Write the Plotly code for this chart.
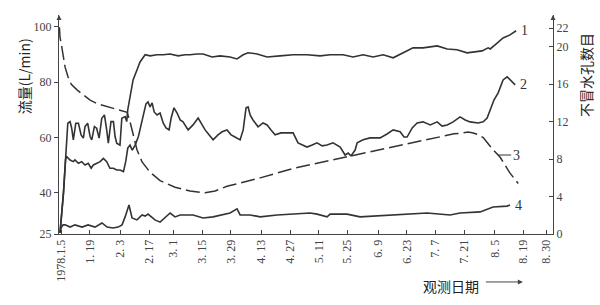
import plotly.graph_objects as go

# x values: days after 1978-01-05
tick_days = [0, 14, 29, 43, 55, 69, 83, 98, 112, 126, 140, 155, 169, 183, 197, 212, 226, 237]
tick_text = ["1978.1.5", "1. 19", "2. 3", "2. 17", "3. 1", "3. 15", "3. 29", "4. 13", "4. 27",
             "5. 11", "5. 25", "6. 9", "6. 23", "7. 7", "7. 21", "8. 5", "8. 19", "8. 30"]

left_ticks = [25, 40, 60, 80, 100]
right_ticks = [0, 4, 8, 12, 16, 20, 22]

# curve 1 (flow, L/min)
day1 = [-0.5, 1.2, 2.2, 3.0, 3.3, 4.4, 5.2, 6.0, 7.2, 8.5, 9.8, 10.9, 11.7, 13.0, 14.2, 15.0, 16.3, 17.4,
        18.6, 19.9, 21.2, 22.3, 23.1, 24.4, 25.6, 26.4, 27.2, 28.8, 29.7, 31.3, 32.1, 32.6, 33.7, 35.2,
        37.1, 38.6, 41.1, 43.5, 46.9, 49.9, 53.3, 57.2, 60.6, 63.0, 66.5, 69.4, 73.8, 77.7, 82.6, 86.0,
        89.0, 91.4, 95.8, 100.7, 107.0, 113.4, 120.2, 126.6, 131.5, 137.8, 142.7, 147.6, 152.5, 157.4,
        162.3, 167.2, 172.0, 176.9, 183.8, 188.7, 193.5, 198.4, 203.3, 205.7, 208.7, 209.7, 212.1, 216.0,
        219.4, 222.4]
flow1 = [25.4, 40, 52, 60, 65.1, 65.7, 63.3, 59.1, 65.1, 65.1, 60.9, 59.7, 63.9, 65.1, 60.3, 59.1, 63.9, 63.3,
         59.7, 66.9, 68.1, 62.7, 57.9, 65.7, 65.7, 60.3, 57.9, 57.2, 66.9, 67.5, 65.7, 70.0, 74.6, 80.8,
         84.4, 87.3, 89.9, 89.5, 89.9, 89.9, 90.2, 89.5, 89.9, 89.9, 90.2, 90.2, 89.1, 89.5, 89.1, 88.4,
         89.9, 90.6, 90.2, 89.1, 89.5, 89.9, 89.9, 89.5, 89.9, 89.9, 89.1, 89.9, 89.1, 89.9,
         88.8, 90.6, 92.4, 92.4, 93.1, 92.0, 91.7, 90.6, 90.9, 91.3, 92.4, 92.0, 93.5, 96.0,
         97.1, 98.6]

# curve 2 (flow, L/min)
day2 = [-0.5, 1.2, 2.2, 2.8, 4.4, 6.0, 6.8, 8.5, 10.1, 11.7, 13.3, 14.7, 15.8, 17.4, 19.1, 20.7, 22.3, 23.9,
        25.6, 27.2, 28.8, 30.5, 31.6, 32.6, 33.7, 34.8, 36.2, 37.8,
        40.1, 41.5, 42.5, 43.5, 44.5, 45.5, 46.9, 48.4, 49.9, 51.3, 52.8, 53.8, 55.2, 56.7, 58.2, 59.6,
        62.1, 64.5, 67.0, 68.9, 70.4, 72.3, 74.3, 76.7, 78.7, 81.1, 83.1, 85.0, 87.5, 89.0, 90.4, 91.4,
        92.4, 93.8, 96.3, 98.7, 100.7, 102.6, 104.6, 107.5, 110.5, 113.4, 115.8, 117.8, 120.2, 122.7,
        125.1, 127.6, 130.0, 132.9, 136.4, 138.8, 140.3, 141.7, 143.7, 144.7, 147.6, 151.0, 155.9, 159.3,
        162.3, 165.7, 167.6, 169.1, 171.6, 174.0, 176.9, 180.4, 183.8, 186.2, 188.7, 191.6, 195.0, 197.5,
        199.9, 203.8, 206.3, 208.2, 210.2, 211.6, 213.6, 214.6, 216.0, 218.0, 219.4, 220.4, 221.9]
flow2 = [25.4, 40, 52, 53.0, 51.8, 51.2, 51.8, 50.6, 51.2, 50.0, 50.6, 48.8, 50.0, 50.6, 51.2, 52.4, 51.2, 48.8,
         48.8, 48.2, 48.2, 47.6, 51.2, 56.1, 57.2, 55.4, 57.2, 60.3,
         67.0, 72.1, 72.8, 71.0, 72.5, 69.2, 68.1, 68.8, 65.2, 63.4, 62.7, 67.0, 70.7, 68.8, 66.3, 65.6,
         62.7, 64.5, 67.0, 64.5, 62.7, 60.9, 59.1, 60.9, 62.0, 62.7, 60.9, 60.1, 59.1, 62.7, 70.7, 71.0,
         68.1, 66.3, 63.8, 65.2, 64.5, 62.7, 60.9, 61.6, 61.6, 61.6, 58.0, 57.2, 56.5, 57.2,
         58.0, 56.9, 57.2, 58.0, 56.5, 53.6, 54.3, 53.3, 55.4, 58.0, 59.1, 59.8, 59.8, 61.2,
         62.7, 62.0, 60.1, 60.1, 63.4, 65.2, 65.6, 64.5, 65.6, 64.1, 64.5, 65.6, 67.4, 66.3,
         65.6, 65.2, 65.6, 67.0, 70.7, 73.6, 76.1, 77.9, 80.8, 81.9, 80.8, 80.1, 79.0]

# curve 3 (number of non-flowing holes, right axis)
day3 = [-0.8, -0.5, 0.2, 1.0, 2.0, 3.4, 5.0, 7.8, 10.5, 14.2, 18.0, 22.5, 27.0, 32.3, 33.7, 35.2, 37.1,
        39.6, 43.5, 48.4, 55.7, 63.0, 70.4, 75.3, 81.1, 97.3, 113.4, 136.4, 164.2, 180.4, 192.0, 196.5,
        199.0, 201.4, 204.0, 206.3, 211.1, 214.6, 219.4, 223.4]
holes3 = [22.1, 21.0, 20.2, 19.1, 17.8, 16.8, 16.0, 15.4, 14.9, 14.3, 13.9, 13.6, 13.3, 13.0, 12.0, 10.6, 9.0,
          7.7, 6.6, 5.7, 5.0, 4.6, 4.4, 4.6, 5.1, 6.0, 7.0, 8.1, 9.4, 10.2, 10.7, 10.8,
          10.9, 10.8, 10.6, 10.3, 9.0, 8.2, 6.5, 5.4]

# curve 4 (flow, L/min)
day4 = [-0.5, 0.0, 1.0, 2.0, 4.4, 6.8, 10.3, 13.2, 16.6, 20.0, 22.5, 25.4, 27.9, 29.8, 31.3, 33.2, 34.7,
        37.1, 39.6, 41.1, 42.5, 44.5, 45.9, 48.4, 53.3, 55.7, 58.2, 64.5, 69.4, 74.3, 82.6, 86.0, 87.5,
        92.4, 97.3, 105.6, 121.7, 125.1, 130.0, 131.5, 139.8, 146.1, 162.3, 178.9, 190.1, 195.0, 204.8,
        211.1, 218.0, 219.4]
flow4 = [25.4, 27.2, 28.3, 28.3, 27.5, 28.3, 27.5, 28.3, 27.5, 29.0, 27.5, 27.2, 27.5, 28.3, 31.2, 35.5, 30.8,
         30.1, 31.9, 31.5, 32.2, 30.8, 30.1, 29.3, 32.6, 31.2, 31.9, 31.9, 30.8, 31.2, 32.6, 34.1, 31.9,
         31.9, 31.2, 31.9, 32.6, 32.2, 31.2, 32.2, 32.2, 31.2, 31.9, 32.6, 31.9, 32.6, 33.0,
         34.8, 35.1, 35.5]

LINE = "#333333"
AX = "#444444"
NUMFONT = dict(family="Liberation Serif", size=12, color="#444444")
CJK = "Noto Sans CJK SC"
TFONT = dict(family=CJK, size=14, color="#222222")

fig = go.Figure()
fig.add_trace(go.Scatter(x=day1, y=flow1, mode="lines", line=dict(color=LINE, width=1.6), showlegend=False))
fig.add_trace(go.Scatter(x=day2, y=flow2, mode="lines", line=dict(color=LINE, width=1.6), showlegend=False))
fig.add_trace(go.Scatter(x=day4, y=flow4, mode="lines", line=dict(color=LINE, width=1.6), showlegend=False))
fig.add_trace(go.Scatter(x=day3, y=holes3, mode="lines", yaxis="y2",
                         line=dict(color=LINE, width=1.5, dash="14px,5px"),
                         showlegend=False))

fig.update_layout(
    width=600, height=305,
    margin=dict(l=59, r=47, t=15, b=71),
    paper_bgcolor="white", plot_bgcolor="white",
    xaxis=dict(range=[-1, 240.4], showgrid=False, zeroline=False, showline=True, linecolor=AX, linewidth=1,
               ticks="inside", ticklen=4, tickcolor=AX, tickvals=tick_days, ticktext=tick_text,
               tickangle=-90, tickfont=NUMFONT),
    yaxis=dict(range=[25, 104.3], showgrid=False, zeroline=False, showline=True, linecolor=AX, linewidth=1,
               ticks="outside", ticklen=4, tickcolor=AX, tickvals=left_ticks, tickfont=NUMFONT),
    yaxis2=dict(range=[0, 23.4], overlaying="y", side="right", showgrid=False, zeroline=False, showline=True,
                linecolor=AX, linewidth=1, ticks="inside", ticklen=4, tickcolor=AX, tickvals=right_ticks,
                tickfont=NUMFONT),
)

ann = []
# axis arrows
for xp in (0, 1):
    ann.append(dict(xref="paper", yref="paper", x=xp, y=1.0, ax=0, ay=12, text=" ", showarrow=True,
                    arrowhead=2, arrowsize=1, arrowwidth=1, arrowcolor=AX))
# axis titles
ann.append(dict(xref="paper", yref="paper", x=-0.071, y=0.72, text="流量(L/min)", textangle=-90,
                xanchor="center", yanchor="middle", showarrow=False, font=TFONT))
ann.append(dict(xref="paper", yref="paper", x=1.067, y=0.726, text="不冒水孔数目", textangle=-90,
                xanchor="center", yanchor="middle", showarrow=False, font=TFONT))
ann.append(dict(xref="paper", yref="paper", x=0.7935, y=-0.237, text="观测日期", xanchor="center",
                yanchor="middle", showarrow=False, font=TFONT))
ann.append(dict(xref="paper", yref="paper", x=0.939, y=-0.219, ax=-40, ay=0, text=" ", showarrow=True,
                arrowhead=2, arrowsize=1, arrowwidth=1, arrowcolor=AX))
# curve labels
LBL = dict(family="Liberation Serif", size=14, color="#333333")
ann.append(dict(x=day1[-1], y=flow1[-1], text="1", showarrow=False, xanchor="left", xshift=3, font=LBL))
ann.append(dict(x=day2[-1], y=flow2[-1], text="2", showarrow=False, xanchor="left", xshift=3, font=LBL))
ann.append(dict(x=213.6, y=8.44, yref="y2", text="3", showarrow=True, arrowhead=0, arrowwidth=1,
                arrowcolor=LINE, ax=18, ay=0, font=LBL))
ann.append(dict(x=day4[-1], y=flow4[-1], text="4", showarrow=False, xanchor="left", xshift=3, font=LBL))
fig.update_layout(annotations=ann)

fig.write_html("out.html")
